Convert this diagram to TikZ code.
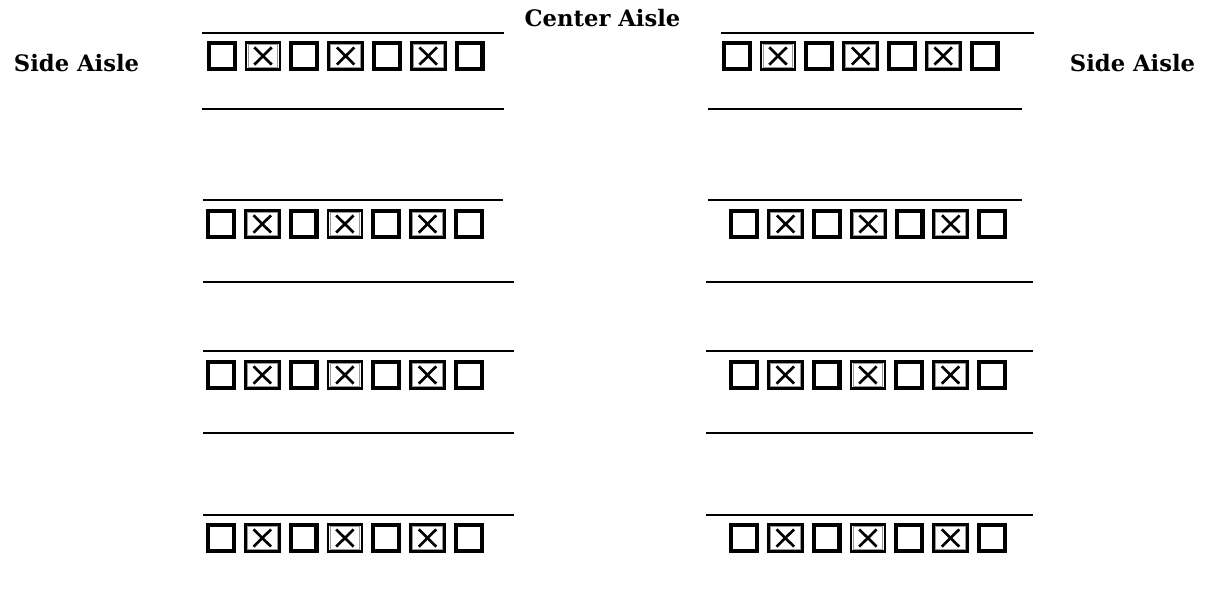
\documentclass[tikz,border=0pt]{standalone}
\usepackage{fontspec}
\setmainfont{DejaVu Serif}
\begin{document}
\begin{tikzpicture}[x=0.75pt,y=-0.75pt,
  seat/.style={draw=black, line width=3.1pt, minimum width=19.4pt, minimum height=19.4pt, inner sep=0pt, outer sep=0pt},
  taken/.style={draw=black, line width=2pt, minimum width=25.5pt, minimum height=20.5pt, inner sep=0pt, outer sep=0pt,
    path picture={
      \draw[black!40, line width=0.8pt] ([shift={(1.6pt,-1.6pt)}]path picture bounding box.north west) rectangle ([shift={(-1.6pt,1.6pt)}]path picture bounding box.south east);
      \draw[black, line width=2pt] ([shift={(6.2pt,-3.8pt)}]path picture bounding box.north west) -- ([shift={(-6.2pt,3.8pt)}]path picture bounding box.south east);
      \draw[black, line width=2pt] ([shift={(6.2pt,3.8pt)}]path picture bounding box.south west) -- ([shift={(-6.2pt,-3.8pt)}]path picture bounding box.north east);
    }},
  rowline/.style={draw=black, line width=1.4pt},
  lbl/.style={font=\fontsize{17pt}{20pt}\selectfont\bfseries, inner sep=0pt, anchor=base}]
\useasboundingbox (0,0) rectangle (1206,595);

% aisle labels
\node[lbl] (sideL) at (76.5,72) {Side Aisle};
\node[lbl] (sideR) at (1132.5,72) {Side Aisle};
\node[lbl] (center) at (602.5,27) {Center Aisle};

% seats
\foreach \r/\xl/\xr/\yt in {1/206.7/721.7/41, 2/206/729.3/209, 3/206/729/360, 4/206/729/523}{
  \foreach \k in {0,...,6}{
    \ifodd\k
      \node[taken] (L\r-\k) at ({\xl+15+41.3*\k},{\yt+15}) {};
      \node[taken] (R\r-\k) at ({\xr+15+41.3*\k},{\yt+15}) {};
    \else
      \node[seat] (L\r-\k) at ({\xl+15+41.3*\k},{\yt+15}) {};
      \node[seat] (R\r-\k) at ({\xr+15+41.3*\k},{\yt+15}) {};
    \fi
  }
}

% row lines
\draw[rowline] (202,33) -- (504,33);
\draw[rowline] (202,109) -- (504,109);
\draw[rowline] (721,33) -- (1034,33);
\draw[rowline] (708,109) -- (1022,109);

\draw[rowline] (203,200) -- (503,200);
\draw[rowline] (203,282) -- (514,282);
\draw[rowline] (708,200) -- (1022,200);
\draw[rowline] (706,282) -- (1033,282);

\draw[rowline] (203,351) -- (514,351);
\draw[rowline] (203,433) -- (514,433);
\draw[rowline] (706,351) -- (1033,351);
\draw[rowline] (706,433) -- (1033,433);

\draw[rowline] (203,515) -- (514,515);
\draw[rowline] (706,515) -- (1033,515);
\end{tikzpicture}
\end{document}
